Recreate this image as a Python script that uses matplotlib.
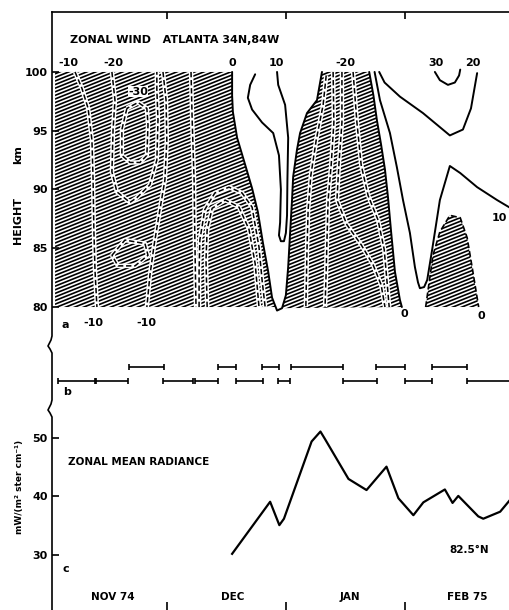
import numpy as np
import matplotlib
matplotlib.use('Agg')
import matplotlib.pyplot as plt
from matplotlib.collections import LineCollection
from matplotlib.patches import Polygon
from matplotlib.lines import Line2D

plt.rcParams['font.family'] = ['DejaVu Sans']
plt.rcParams['font.weight'] = 'bold'

# ---- data (x in days after 1 Nov 1974, y in km / radiance units) ----
month_ticks = [30, 61, 92]
month_names = ['NOV 74', 'DEC', 'JAN', 'FEB 75']
month_pos = [15.9, 47.1, 77.6, 108.1]

# zero contour, U shape in the middle (left arm = first 11 points)
z0_day = [46.9, 46.9, 47.1, 48.2, 50.3, 52.1, 53.6, 54.9, 56.3, 57.3, 58.6,
          59.9, 60.9, 61.5, 62.0, 62.5, 62.8, 63.8, 64.6, 66.4, 69.0, 70.3]
z0_km = [100.0, 98.0, 96.6, 94.4, 92.1, 90.1, 88.1, 85.5, 83.0, 80.8, 79.7,
         79.9, 81.0, 83.4, 86.3, 89.1, 91.1, 93.4, 94.8, 96.5, 97.6, 100.0]
# zero contour right of the January easterlies
z0b_day = [82.6, 83.7, 84.6, 85.7, 86.7, 87.5, 88.3, 89.3, 90.6, 91.1]
z0b_km = [100.0, 98.0, 95.9, 93.8, 91.7, 89.3, 86.4, 83.0, 80.6, 80.0]
# zero contour of the small February cell
zc_day = [97.3, 99.2, 101.0, 103.6, 106.3, 108.1, 109.6, 111.1]
zc_km = [80.0, 84.4, 86.4, 87.8, 87.6, 85.9, 83.0, 80.0]

# westerly contours (solid)
z10a_day = [52.9, 51.6, 51.0, 52.1, 54.7, 57.6, 59.1, 59.6, 59.4, 59.1, 59.6,
            60.4, 60.9, 61.2, 61.3, 61.5, 60.7, 58.9, 58.6]
z10a_km = [99.8, 98.9, 97.8, 96.8, 95.7, 94.8, 92.9, 90.0, 87.2, 86.1, 85.6,
           85.6, 86.3, 87.8, 90.8, 94.4, 97.2, 98.9, 100.0]
z10b_day = [84.0, 85.4, 88.0, 89.8, 91.4, 93.2, 94.5, 95.3, 95.8, 96.9, 97.7,
            99.0, 101.0, 103.6, 106.3, 110.7, 115.9, 119.5]
z10b_km = [100.0, 97.6, 94.8, 91.9, 89.1, 86.3, 83.4, 82.1, 81.6, 81.7, 82.3,
           84.9, 89.1, 92.0, 91.4, 90.2, 89.1, 88.4]
z20_day = [85.2, 86.6, 90.6, 96.6, 103.6, 107.0, 109.1, 110.7]
z20_km = [100.0, 99.1, 97.9, 96.5, 94.6, 95.1, 96.9, 99.9]
z30_day = [99.7, 101.0, 103.1, 104.9, 106.0, 106.3]
z30_km = [100.0, 99.3, 98.9, 99.1, 99.7, 100.2]

# easterly contours (dashed)
dashed_lines = [
    # -10, November
    ([6.0, 7.8, 9.4, 10.4, 10.7, 10.9, 11.2, 11.7],
     [100.0, 98.6, 96.9, 94.2, 90.8, 86.6, 83.1, 80.0]),
    ([28.9, 29.7, 29.9, 29.4, 28.1, 26.6, 25.5, 24.7],
     [100.0, 97.6, 94.2, 90.8, 88.3, 85.3, 82.7, 80.0]),
    # -20
    ([15.6, 16.4, 15.9, 15.6, 16.9, 20.3, 22.1, 25.5, 27.3, 27.6, 27.3, 27.3],
     [100.0, 97.6, 95.1, 91.5, 89.8, 88.9, 89.3, 90.4, 92.5, 95.9, 98.5, 100.0]),
    # -30
    ([19.5, 18.2, 18.2, 20.3, 22.9, 24.7, 25.0, 24.7, 22.4, 19.5],
     [96.9, 95.1, 92.9, 92.3, 92.3, 92.9, 95.5, 96.9, 97.4, 96.9]),
    ([15.6, 19.0, 24.2, 25.0, 21.6, 17.2, 15.6],
     [84.4, 85.7, 85.4, 84.4, 83.5, 83.5, 84.4]),
    ([36.2, 36.5, 37.0, 37.2, 37.5],
     [100.0, 95.9, 90.8, 85.7, 80.0]),
    ([38.3, 38.3, 38.5, 39.8, 42.4, 46.1, 49.5, 52.1, 53.9, 54.7, 55.5],
     [80.0, 83.1, 85.7, 88.3, 89.7, 90.2, 89.7, 88.5, 85.1, 82.3, 80.0]),
    ([40.4, 40.1, 40.4, 41.7, 45.1, 48.7, 51.3, 52.9, 53.9],
     [80.0, 84.0, 86.6, 88.4, 89.1, 88.5, 86.6, 83.7, 80.0]),
    # January
    ([71.4, 70.6, 68.8, 67.4, 66.7, 66.4, 66.1],
     [99.7, 97.2, 94.2, 91.2, 88.3, 84.9, 80.0]),
    ([73.2, 73.4, 72.7, 71.9, 71.6, 71.4, 71.1],
     [100.0, 95.7, 92.1, 89.1, 85.7, 83.1, 80.0]),
    ([75.5, 75.5, 74.7, 74.2, 76.8, 80.5, 83.6, 85.7, 86.7],
     [100.0, 95.7, 92.1, 89.1, 87.0, 85.3, 83.6, 81.9, 80.0]),
    ([78.4, 79.4, 80.5, 82.3, 84.9, 86.5, 87.2, 87.8],
     [100.0, 95.7, 92.1, 89.5, 87.4, 84.9, 82.3, 80.0]),
]

# contour labels: (text, day, km)
wind_labels = [('-10', 4.2, 100.8), ('-20', 15.9, 100.8), ('-30', 22.4, 98.3),
               ('0', 46.9, 100.8), ('10', 58.3, 100.8), ('-20', 76.3, 100.8),
               ('30', 100.0, 100.8), ('20', 109.6, 100.8),
               ('-10', 10.7, 78.6), ('-10', 24.5, 78.6), ('0', 91.7, 79.4),
               ('0', 111.7, 79.2)]
edge_label = ('10', 118.6, 87.6)

# panel b: periods at two levels
low_start = [1.6, 11.5, 28.9, 37.2, 47.9, 58.9, 75.8, 91.9, 108.1]
low_end = [11.2, 19.8, 36.7, 43.2, 54.9, 62.0, 84.6, 99.0, 119.5]
up_start = [20.1, 43.2, 54.7, 62.2, 84.4, 99.0]
up_end = [29.2, 47.9, 59.1, 75.8, 91.9, 108.1]

# panel c: zonal mean radiance 82.5N
rad_day = [46.9, 56.8, 59.2, 60.4, 67.6, 69.9, 71.1, 77.2, 81.9, 87.1, 90.2,
           94.1, 96.7, 102.3, 104.3, 105.8, 111.0, 112.3, 116.7, 119.5]
rad_val = [30.2, 39.1, 35.1, 36.2, 49.4, 51.1, 49.8, 43.0, 41.1, 45.1, 39.7,
           36.8, 39.0, 41.2, 38.9, 40.1, 36.6, 36.2, 37.4, 39.6]

W, H = 509, 610
fig = plt.figure(figsize=(W / 100, H / 100), dpi=100)


def frac(x0, y_top, y_bot):
    return [x0 / W, 1 - y_bot / H, 1 - x0 / W, (y_bot - y_top) / H]


ax_a = fig.add_axes(frac(52, 12, 335))
ax_b = fig.add_axes(frac(52, 352, 398))
ax_c = fig.add_axes(frac(52, 412, 610))

for ax in (ax_a, ax_b, ax_c):
    ax.set_xlim(0, 119)
    for s in ax.spines.values():
        s.set_visible(False)
ax_a.spines['top'].set_visible(True)
ax_a.spines['top'].set_linewidth(1.2)

# ---- panel a ----
ax_a.set_ylim(77.62, 105.1)
ax_a.set_yticks([80, 85, 90, 95, 100])
ax_a.xaxis.tick_top()
ax_a.set_xticks(month_ticks)
ax_a.tick_params(axis='x', direction='in', length=5, width=1.2, labeltop=False)
ax_a.tick_params(axis='y', direction='in', length=5, width=1.2, labelsize=8, pad=3)


def hatch(ax, xs, ys):
    poly = Polygon(np.column_stack([xs, ys]), closed=True,
                   transform=ax.transData, fc='none', ec='none')
    ax.add_patch(poly)
    bw, bh = ax.bbox.width, ax.bbox.height
    slope, step = 0.4, 3.6
    segs = [[(0, y0 / bh), (1, (y0 + slope * bw) / bh)]
            for y0 in np.arange(-slope * bw, bh, step)]
    lc = LineCollection(segs, transform=ax.transAxes, colors='k',
                        linewidths=1.2, zorder=1)
    lc.set_clip_path(poly)
    ax.add_collection(lc)


hatch_left, hatch_bottom = 0.8, 80.0
hatch(ax_a, [hatch_left, hatch_left] + z0_day[:11] + [z0_day[10]],
      [hatch_bottom, 100.0] + z0_km[:11] + [hatch_bottom])
hatch(ax_a, z0_day[11:] + z0b_day, z0_km[11:] + z0b_km)
hatch(ax_a, zc_day, zc_km)

for d, k in dashed_lines:
    ax_a.plot(d, k, color='white', lw=3.2, zorder=2, solid_capstyle='butt')
    ax_a.plot(d, k, color='k', lw=1.1, ls=(0, (3.5, 1.8)), zorder=3)
ax_a.plot(zc_day, zc_km, color='k', lw=1.2, ls=(0, (3.5, 1.8)), zorder=3)

for d, k in [(z0_day, z0_km), (z0b_day, z0b_km), (z10a_day, z10a_km),
             (z10b_day, z10b_km), (z20_day, z20_km), (z30_day, z30_km)]:
    ax_a.plot(d, k, color='k', lw=1.4, zorder=4, solid_capstyle='round')

for txt, d, k in wind_labels:
    bb = dict(fc='white', ec='none', pad=0.3) if txt == '-30' else None
    ax_a.text(d, k, txt, ha='center', va='center', fontsize=8, zorder=5,
              bbox=bb, clip_on=False)
ax_a.text(edge_label[1], edge_label[2], edge_label[0], ha='right',
          va='center', fontsize=8, zorder=5)

ax_a.text(4.7, 102.7, 'ZONAL WIND   ATLANTA 34N,84W', fontsize=8,
          ha='left', va='center')
ax_a.text(3.4, 78.5, 'a', fontsize=8, ha='center', va='center')

# ---- panel b ----
ax_b.set_ylim(-1.2, 2.1)
ax_b.set_xticks([])
ax_b.set_yticks([])
for st, en, lev in [(low_start, low_end, 0), (up_start, up_end, 1)]:
    ax_b.hlines([lev] * len(st), st, en, color='k', lw=1.2)
    ax_b.plot(st + en, [lev] * (len(st) + len(en)), ls='none', marker='|',
              ms=5, mew=1.2, color='k')
ax_b.text(3.9, -0.77, 'b', fontsize=8, ha='center', va='center')

# ---- panel c ----
ax_c.set_ylim(20.6, 54.44)
ax_c.set_yticks([30, 40, 50])
ax_c.set_xticks(month_ticks)
ax_c.tick_params(axis='x', direction='in', length=6, width=1.2, labelbottom=False)
ax_c.tick_params(axis='y', direction='in', length=5, width=1.2, labelsize=8, pad=3)
ax_c.plot(rad_day, rad_val, color='k', lw=1.6)
ax_c.text(4.2, 45.9, 'ZONAL MEAN RADIANCE', fontsize=7.5, ha='left', va='center')
ax_c.text(108.6, 30.85, '82.5°N', fontsize=7.5, ha='center', va='center')
ax_c.text(3.6, 27.6, 'c', fontsize=8, ha='center', va='center')
for name, pos in zip(month_names, month_pos):
    ax_c.text(pos, 22.8, name, fontsize=7.5, ha='center', va='center')

# ---- axis titles ----
fig.text(18 / W, 1 - 220 / H, 'HEIGHT', rotation=90, fontsize=8,
         ha='center', va='center')
fig.text(18 / W, 1 - 155 / H, 'km', rotation=90, fontsize=8,
         ha='center', va='center')
fig.text(20 / W, 1 - 487 / H, 'mW/(m² ster cm⁻¹)', rotation=90, fontsize=6.5,
         ha='center', va='center')

# continuous left axis with brace-like breaks
sx = [52, 52, 51, 49, 48, 50, 52, 52, 51, 49, 48, 50, 52, 52]
sy = [12, 336, 340, 344, 346, 349, 353, 400, 404, 408, 410, 413, 417, 610]
fig.add_artist(Line2D([x / W for x in sx], [1 - y / H for y in sy],
                      transform=fig.transFigure, color='k', lw=1.2))

fig.savefig('out.png', dpi=100)
